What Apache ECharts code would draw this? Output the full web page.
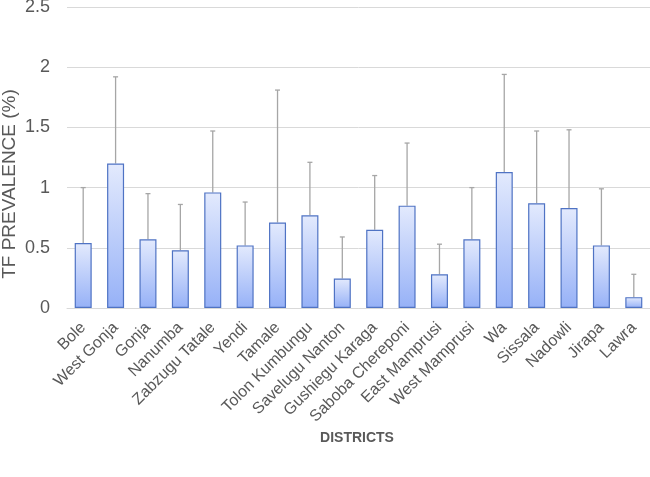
<!DOCTYPE html>
<html><head><meta charset="utf-8">
<script src="https://cdn.jsdelivr.net/npm/echarts@6/dist/echarts.min.js"></script>
<style>html,body{margin:0;padding:0;background:#fff}#c{width:650px;height:477px}</style>
</head><body><div id="c"></div>
<script>
var districts = ["Bole","West Gonja","Gonja","Nanumba","Zabzugu Tatale","Yendi","Tamale","Tolon Kumbungu","Savelugu Nanton","Gushiegu Karaga","Saboba Chereponi","East Mamprusi","West Mamprusi","Wa","Sissala","Nadowli","Jirapa","Lawra"];
var prevalence = [0.54,1.20,0.57,0.48,0.96,0.52,0.71,0.77,0.245,0.65,0.85,0.28,0.57,1.13,0.87,0.83,0.52,0.09];
var upperCI = [1.00,1.92,0.95,0.86,1.47,0.88,1.81,1.21,0.59,1.10,1.37,0.53,1.00,1.94,1.47,1.48,0.99,0.28];
var yTicks = [0,0.5,1,1.5,2,2.5];

var chart = echarts.init(document.getElementById('c'));
var errData = prevalence.map(function(v,i){return [i,v,upperCI[i]];});
chart.setOption({
  animation:false,
  grid:{left:67,right:0,top:7,bottom:169,outerBoundsMode:'none',containLabel:false},
  graphic:[{type:'text',x:10,y:184,rotation:Math.PI/2,
    style:{text:'TF PREVALENCE (%)',fill:'#595959',font:'19px "Liberation Sans"',textAlign:'center',textVerticalAlign:'middle'}},
    {type:'text',x:357,y:438,
    style:{text:'DISTRICTS',fill:'#595959',font:'bold 14px "Liberation Sans"',textAlign:'center',textVerticalAlign:'middle'}}],
  xAxis:{type:'category',data:districts,
    axisLine:{lineStyle:{color:'#d9d9d9'}},axisTick:{show:false},
    axisLabel:{interval:0,rotate:45,color:'#595959',fontSize:16,fontFamily:'Liberation Sans',margin:17}},
  yAxis:{type:'value',min:0,max:2.5,interval:0.5,
    axisLine:{show:false},axisTick:{show:false},
    splitLine:{lineStyle:{color:'#d9d9d9'}},
    axisLabel:{color:'#595959',fontSize:18,fontFamily:'Liberation Sans',margin:17,
      formatter:function(v){return yTicks.indexOf(v)>=0?String(v):'';}}},
  series:[
    {type:'bar',data:prevalence,barWidth:17,
      itemStyle:{borderColor:'#4f73c4',borderWidth:1.2,
        color:new echarts.graphic.LinearGradient(0,0,0,1,[{offset:0,color:'#e3eafd'},{offset:1,color:'#96b1f7'}])}},
    {type:'custom',data:errData,z:1,
      renderItem:function(params,api){
        var x=api.value(0);
        var lo=api.coord([x,api.value(1)]);
        var hi=api.coord([x,api.value(2)]);
        var st={stroke:'#a6a6a6',lineWidth:1.3};
        return {type:'group',children:[
          {type:'line',shape:{x1:lo[0],y1:lo[1],x2:hi[0],y2:hi[1]},style:st},
          {type:'line',shape:{x1:hi[0]-2.5,y1:hi[1],x2:hi[0]+2.5,y2:hi[1]},style:st}
        ]};
      }}
  ]
});
</script></body></html>
